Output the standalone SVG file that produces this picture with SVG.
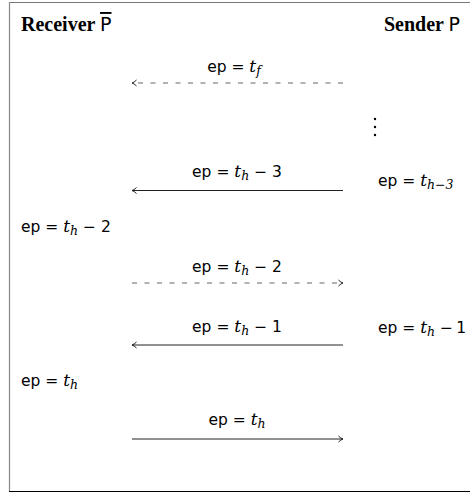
<svg xmlns="http://www.w3.org/2000/svg" width="470" height="493" viewBox="0 0 470 493">
<style>
.lbl{font-family:"DejaVu Sans",sans-serif;font-size:15.5px;fill:#000}
.m{font-family:"DejaVu Serif",serif;font-style:italic;font-size:17px}
.sub{font-size:12.5px}
.hd{font-family:"Liberation Serif",serif;font-weight:bold;font-size:20px}
.solid{stroke:#222;stroke-width:1;fill:none}
.dash{stroke:#666;stroke-width:1;fill:none;stroke-dasharray:5 7.5}
</style>
<defs>
<marker id="ah" viewBox="0 0 8 8" refX="6" refY="4" markerWidth="8" markerHeight="8" markerUnits="userSpaceOnUse" orient="auto">
<path d="M1.5,1 Q4,3.5 6,4 Q4,4.5 1.5,7" fill="none" stroke="#222" stroke-width="1"/>
</marker>
</defs>
<rect width="470" height="493" fill="#fff"/>
<g id="frame">
<line x1="9.5" y1="2.5" x2="470" y2="2.5" stroke="#777" stroke-width="1"/>
<line x1="9.5" y1="2" x2="9.5" y2="492" stroke="#888" stroke-width="1.2"/>
<line x1="9" y1="491.5" x2="470" y2="491.5" stroke="#000" stroke-width="1.2"/>
</g>
<g id="receiver"><text x="21" y="31" class="hd">Receiver <tspan font-family="DejaVu Sans" font-weight="normal" font-size="19" text-decoration="overline">P</tspan></text></g>
<g id="sender"><text x="460" y="31" class="hd" text-anchor="end">Sender <tspan font-family="DejaVu Sans" font-weight="normal" font-size="19">P</tspan></text></g>
<g id="connectors">
<line class="dash" x1="343" y1="83" x2="132" y2="83" marker-end="url(#ah)"/>
<line class="solid" x1="343" y1="190.5" x2="132" y2="190.5" marker-end="url(#ah)"/>
<line class="dash" x1="132" y1="283" x2="343" y2="283" marker-end="url(#ah)"/>
<line class="solid" x1="343" y1="345" x2="132" y2="345" marker-end="url(#ah)"/>
<line class="solid" x1="132" y1="439" x2="343" y2="439" marker-end="url(#ah)"/>
</g>
<g id="labels">
<text class="lbl" x="234" y="72" text-anchor="middle">ep = <tspan class="m">t</tspan><tspan class="m sub" dy="3">f</tspan></text>
<text class="lbl" x="237" y="177" text-anchor="middle">ep = <tspan class="m">t</tspan><tspan class="m sub" dy="3">h</tspan><tspan dy="-3"> − 3</tspan></text>
<text class="lbl" x="237" y="272" text-anchor="middle">ep = <tspan class="m">t</tspan><tspan class="m sub" dy="3">h</tspan><tspan dy="-3"> − 2</tspan></text>
<text class="lbl" x="237" y="332" text-anchor="middle">ep = <tspan class="m">t</tspan><tspan class="m sub" dy="3">h</tspan><tspan dy="-3"> − 1</tspan></text>
<text class="lbl" x="237" y="425" text-anchor="middle">ep = <tspan class="m">t</tspan><tspan class="m sub" dy="3">h</tspan></text>
</g>
<g id="dots" fill="#000">
<circle cx="375" cy="119" r="1.2"/>
<circle cx="375" cy="127" r="1.2"/>
<circle cx="375" cy="135" r="1.2"/>
</g>
<g id="s1"><text class="lbl" x="378" y="186">ep = <tspan class="m">t</tspan><tspan class="m sub" dy="3">h−3</tspan></text></g>
<g id="s2"><text class="lbl" x="378" y="333">ep = <tspan class="m">t</tspan><tspan class="m sub" dy="3">h</tspan><tspan dy="-3"> −&#8201;1</tspan></text></g>
<g id="r1"><text class="lbl" x="21" y="232">ep = <tspan class="m">t</tspan><tspan class="m sub" dy="3">h</tspan><tspan dy="-3"> − 2</tspan></text></g>
<g id="r2"><text class="lbl" x="21" y="386">ep = <tspan class="m">t</tspan><tspan class="m sub" dy="3">h</tspan></text></g>
</svg>
